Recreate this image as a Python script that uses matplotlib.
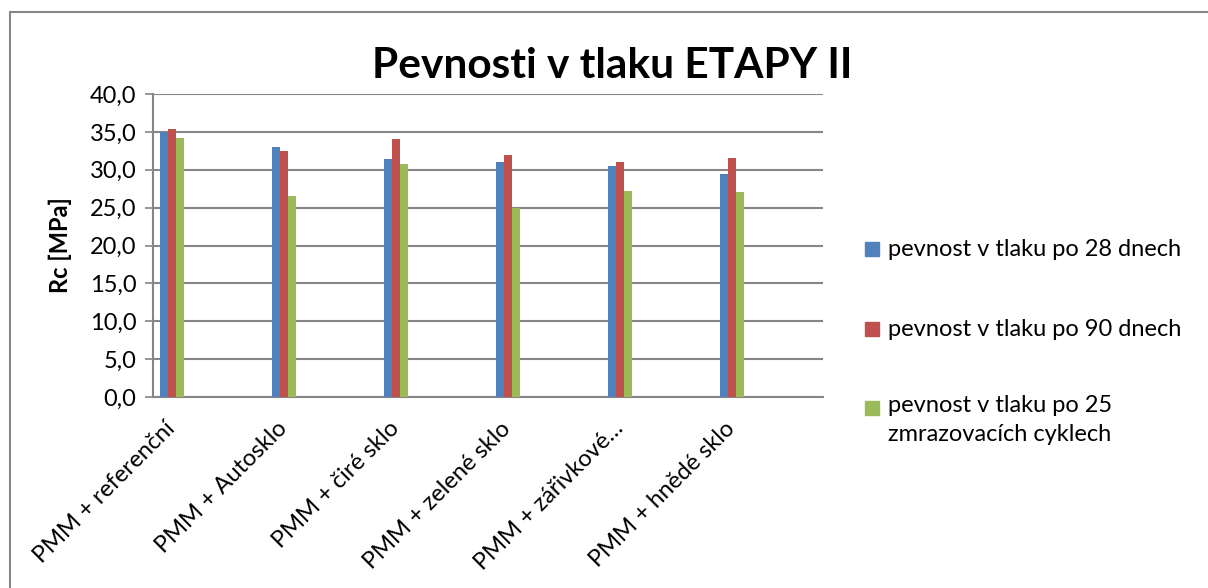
import matplotlib
matplotlib.use("Agg")
import matplotlib.pyplot as plt
import matplotlib.transforms as mtransforms
from matplotlib.patches import Rectangle
import numpy as np

categories = ["PMM + referenční", "PMM + Autosklo", "PMM + čiré sklo",
              "PMM + zelené sklo", "PMM + zářivkové…", "PMM + hnědé sklo"]
series_names = ["pevnost v tlaku po 28 dnech", "pevnost v tlaku po 90 dnech",
                "pevnost v tlaku po 25\nzmrazovacích cyklech"]
s28 = [35.0, 33.0, 31.4, 31.0, 30.5, 29.5]
s90 = [35.4, 32.5, 34.0, 32.0, 31.0, 31.5]
s25c = [34.2, 26.6, 30.7, 25.0, 27.2, 27.1]
yticks = [0, 5, 10, 15, 20, 25, 30, 35, 40]
ytick_labels = ["0,0", "5,0", "10,0", "15,0", "20,0", "25,0", "30,0", "35,0", "40,0"]
title = "Pevnosti v tlaku ETAPY II"
ylabel = "Rc [MPa]"

colors = ["#4F81BD", "#C0504D", "#9BBB59"]
plt.rcParams['font.family'] = ['Lato', 'DejaVu Sans']
FS = 17

W, H = 1208, 588
fig = plt.figure(figsize=(W / 100, H / 100), dpi=100)
ax = fig.add_axes([153 / W, 1 - 397 / H, (823 - 153) / W, (397 - 94) / H])

x = np.arange(len(categories))
bw = 8 / 112
for k, vals in enumerate([s28, s90, s25c]):
    ax.bar(x + (k - 1) * bw, vals, width=bw, color=colors[k], zorder=3)

ax.set_xlim(-19 / 112, len(categories) - 1 + 91 / 112)
ax.set_ylim(0, 40)
ax.set_yticks(yticks)
ax.set_yticklabels(ytick_labels, fontsize=FS)
ax.yaxis.grid(True, color="#868686", linewidth=1.5, zorder=0)
ax.set_axisbelow(True)
for side in ["top", "right"]:
    ax.spines[side].set_visible(False)
for side in ["left", "bottom"]:
    ax.spines[side].set_color("#868686")
    ax.spines[side].set_linewidth(1.5)
ax.tick_params(axis="y", length=6, width=1.2, color="#868686", pad=6)
ax.tick_params(axis="x", length=0, pad=15)
ax.set_xticks(x)
ax.set_xticklabels(categories, rotation=45, ha="right", va="top",
                   rotation_mode="anchor", fontsize=FS)
offset = mtransforms.ScaledTranslation(-8 / 100, 0, fig.dpi_scale_trans)
for lbl in ax.get_xticklabels():
    lbl.set_transform(lbl.get_transform() + offset)

fig.text(60 / W, 1 - 245 / H, ylabel, rotation=90, ha="center", va="center",
         fontsize=FS, fontweight="bold")
fig.text(612 / W, 1 - 66 / H, title, ha="center", va="center",
         fontsize=30.5, fontweight="bold")

# legend
leg_y = [249, 329, 408]
for k in range(3):
    fig.patches.append(Rectangle((865 / W, 1 - (leg_y[k] + 7) / H), 14 / W, 14 / H,
                                 transform=fig.transFigure, color=colors[k]))
    if k < 2:
        fig.text(888 / W, 1 - leg_y[k] / H, series_names[k], ha="left",
                 va="center", fontsize=FS)
    else:
        fig.text(888 / W, 1 - (leg_y[k] - 13) / H, series_names[k], ha="left",
                 va="top", fontsize=FS, linespacing=1.45)

# outer border
fig.patches.append(Rectangle((10 / W, -0.02), 1.05, 1 - 12 / H + 0.02,
                             transform=fig.transFigure, fill=False,
                             edgecolor="#868686", linewidth=1.5))

fig.savefig("out.png", dpi=100)
